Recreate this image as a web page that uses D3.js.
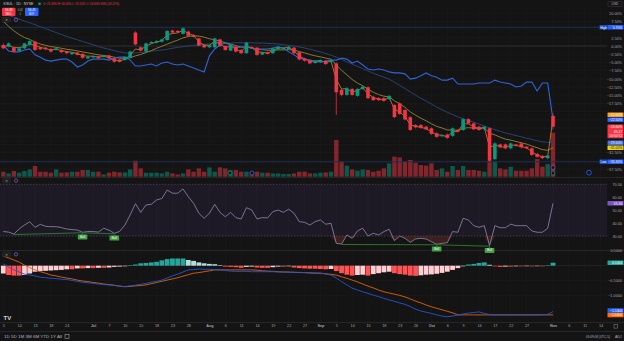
<!DOCTYPE html>
<html><head><meta charset="utf-8">
<script src="https://cdn.jsdelivr.net/npm/d3@7"></script>
<style>
html,body{margin:0;padding:0;background:#141414;overflow:hidden}
svg{display:block;font-family:"Liberation Sans",Arial,sans-serif}
</style></head><body>
<svg id="c" width="624" height="341"></svg>
<script>
// ---------- DATA (percent change scale) ----------
const open = [0.3,-0.2,-0.5,-1.5,-0.7,0.3,1.3,-0.4,-0.5,-0.9,
-1.2,-1.2,-1.7,-2.5,-2.0,-2.4,-3.8,-3.5,-3.2,-3.3,
-2.9,-3.8,-4.1,-4.3,-3.6,4.1,-0.4,-1.7,0.8,1.0,
1.3,1.8,4.7,4.6,3.7,4.4,3.4,2.3,0.3,-0.4,
-0.4,2.0,0.0,-1.4,-0.2,-1.2,-2.2,-0.3,-0.5,-2.6,
-1.9,-2.2,-1.0,-0.9,-0.9,-0.5,-1.9,-3.8,-4.3,-5.2,
-4.9,-4.5,-4.8,-5.3,-13.4,-14.9,-13.1,-15.2,-13.1,-12.6,
-15.5,-15.9,-15.9,-16.2,-18.0,-17.5,-19.5,-21.7,-24.1,-24.1,
-24.6,-25.1,-26.6,-27.5,-27.0,-27.4,-25.6,-25.6,-22.3,-23.6,
-24.6,-25.4,-25.1,-34.5,-30.0,-30.0,-31.2,-30.0,-29.7,-30.7,
-31.2,-32.9,-33.5,-34.2,-21.3];
const high = [0.8,1.1,-0.2,-0.4,1.0,1.8,1.6,-0.2,-0.3,-0.7,
-0.5,-1.0,-1.5,-1.8,-1.8,-2.2,-3.1,-2.9,-3.0,-2.7,
-2.7,-3.6,-3.9,-3.1,-1.4,4.5,-0.1,1.1,1.5,1.8,
2.3,4.9,5.0,4.9,5.7,4.7,3.6,2.5,0.5,0.4,
2.6,2.2,0.2,0.6,0.0,-1.0,1.3,-0.1,-0.3,-1.7,
-1.7,-0.5,0.0,-0.4,0.0,-0.3,-1.7,-3.6,-4.1,-4.4,
-4.1,-4.3,-4.1,-5.0,-13.1,-12.5,-12.8,-12.8,-12.1,-12.3,
-15.2,-15.6,-15.6,-14.9,-17.7,-17.2,-19.2,-21.4,-23.8,-23.8,
-24.3,-24.8,-26.3,-26.9,-26.7,-24.8,-25.3,-22.0,-22.0,-23.3,
-24.3,-24.3,-24.8,-29.4,-29.7,-29.7,-29.4,-29.8,-29.4,-30.5,
-30.9,-32.6,-33.2,-33.2,-20.5];
const low = [-0.9,-0.4,-2.0,-1.8,-0.9,0.1,-1.5,-1.2,-1.3,-2.0,
-1.4,-2.1,-2.5,-2.7,-2.9,-3.9,-4.0,-3.8,-3.9,-3.5,
-4.0,-5.1,-5.0,-4.5,-3.8,0.2,-1.7,-1.9,0.6,0.8,
1.1,1.6,3.9,4.0,3.5,2.9,2.6,-0.1,-0.7,-0.6,
-0.6,-0.3,-1.5,-1.6,-2.0,-2.5,-2.4,-0.9,-3.0,-2.8,
-2.6,-2.4,-1.2,-1.1,-1.1,-2.5,-4.4,-4.8,-5.6,-5.4,
-5.1,-5.8,-5.0,-21.0,-15.4,-15.3,-15.2,-15.5,-13.4,-16.2,
-16.8,-16.8,-17.0,-16.5,-22.0,-21.0,-22.7,-25.9,-25.1,-25.3,
-25.7,-27.1,-28.0,-27.8,-28.3,-27.7,-26.4,-25.9,-23.9,-25.7,
-25.9,-25.7,-35.3,-34.8,-31.2,-31.5,-31.5,-30.7,-31.2,-31.5,
-33.5,-34.1,-34.5,-34.5,-25.5];
const close = [-0.7,0.8,-1.7,-0.7,0.8,1.5,-1.2,-1.0,-1.0,-1.7,
-0.7,-1.9,-2.2,-2.0,-2.7,-3.6,-3.3,-3.1,-3.7,-2.9,
-3.8,-4.8,-4.8,-3.3,-1.7,0.5,-1.4,0.8,1.2,1.5,
2.0,4.6,4.1,4.2,5.4,3.1,2.8,0.1,-0.4,0.2,
2.3,0.0,-1.2,0.3,-1.7,-2.2,1.0,-0.7,-2.7,-1.9,
-2.4,-0.7,-0.2,-0.6,-0.2,-2.2,-4.1,-4.5,-5.3,-4.6,
-4.3,-5.5,-4.3,-14.1,-14.9,-12.9,-14.9,-13.1,-12.4,-15.9,
-16.5,-16.5,-16.7,-15.2,-21.7,-20.7,-22.4,-25.6,-24.8,-25.0,
-25.4,-26.8,-27.7,-27.2,-28.0,-25.1,-26.1,-22.3,-23.6,-25.4,
-25.6,-24.6,-35.0,-29.7,-30.9,-31.2,-29.7,-30.4,-30.9,-31.2,
-33.2,-33.8,-34.2,-33.4,-24.6];
const volume = [500,330,570,400,570,730,1070,500,500,400,
730,400,430,500,500,670,670,500,500,230,
400,500,430,430,730,1600,830,400,400,400,
330,500,330,230,330,730,500,830,500,930,
500,930,830,670,670,500,500,500,500,400,
400,330,330,270,270,330,500,500,330,330,
400,430,500,3670,1500,1100,730,600,730,670,
500,600,830,1330,2000,1930,1500,1670,1400,1170,
1100,1330,670,830,500,1070,670,1070,670,670,
600,500,1500,1500,830,730,1000,600,600,600,
830,1770,1000,1270,4400];
const compare = [0.3,-1.5,-1.8,-1.8,-1.2,-0.9,-2.7,-3.4,-4.3,-4.6,
-4.3,-4.0,-4.0,-4.9,-6.4,-5.8,-4.6,-4.0,-4.0,-4.0,
-4.3,-3.7,-3.4,-3.4,-4.3,-6.1,-6.1,-5.8,-5.5,-6.1,
-5.2,-4.9,-5.5,-5.8,-5.5,-6.1,-6.7,-7.3,-7.9,-3.0,
-0.9,0.3,0.9,0.3,-0.6,-0.3,-0.3,-0.6,-0.9,-0.9,
-0.9,-0.6,-0.3,-0.6,-1.8,-2.7,-3.7,-4.0,-4.3,-4.6,
-4.9,-4.6,-4.3,-4.3,-3.7,-4.0,-5.2,-4.6,-5.8,-7.0,
-7.3,-7.0,-7.3,-7.9,-8.2,-8.2,-8.5,-10.1,-9.8,-9.1,
-8.2,-9.1,-9.5,-10.4,-10.4,-9.8,-11.6,-11.6,-11.6,-11.6,
-11.3,-11.3,-11.3,-10.4,-11.0,-11.3,-11.6,-12.5,-12.2,-11.0,
-11.0,-13.7,-11.3,-11.3,-22.5];
const fastMA = [-0.2,0.2,-0.5,-0.5,-0.2,0.6,0.2,-0.4,-0.8,-1.2,
-1.0,-1.4,-1.7,-1.9,-2.3,-2.9,-3.1,-3.1,-3.4,-3.2,
-3.5,-4.2,-4.6,-4.0,-2.8,-0.9,-1.2,0.0,0.7,1.2,
1.7,3.4,3.8,4.0,4.8,3.8,3.2,1.3,0.3,0.2,
1.5,0.6,-0.5,0.0,-1.0,-1.7,-0.1,-0.5,-1.8,-1.9,
-2.2,-1.3,-0.6,-0.6,-0.4,-1.5,-3.1,-3.9,-4.7,-4.6,
-4.4,-5.1,-4.6,-10.3,-13.1,-13.0,-14.1,-13.5,-12.8,-14.6,
-15.7,-16.2,-16.5,-15.7,-19.3,-20.1,-21.5,-24.0,-24.5,-24.8,
-25.2,-26.2,-27.1,-27.2,-27.7,-26.1,-26.1,-23.8,-23.7,-24.7,
-25.2,-24.8,-30.9,-30.2,-30.6,-31.0,-30.2,-30.3,-30.7,-31.0,
-32.3,-33.2,-33.8,-33.6,-22.0];
const midMA = [7.5,6.0,4.6,3.5,2.6,2.0,1.2,0.6,0.2,-0.2,
-0.4,-0.7,-1.0,-1.2,-1.5,-1.8,-2.1,-2.4,-2.7,-2.9,
-3.1,-3.4,-3.7,-3.8,-3.6,-3.0,-2.6,-2.0,-1.4,-0.7,
-0.1,0.6,1.2,1.8,2.5,2.9,3.1,3.0,2.7,2.2,
1.9,1.5,1.0,0.6,0.1,-0.3,-0.4,-0.6,-0.9,-1.1,
-1.3,-1.3,-1.2,-1.2,-1.1,-1.3,-1.7,-2.1,-2.6,-3.0,
-3.3,-3.7,-4.0,-5.8,-7.4,-8.8,-10.2,-11.3,-12.1,-13.2,
-14.1,-14.8,-15.3,-15.5,-16.7,-17.6,-18.7,-20.1,-21.1,-22.0,
-22.8,-23.7,-24.5,-25.0,-25.6,-25.6,-25.7,-25.1,-24.9,-25.0,
-25.1,-25.0,-26.6,-27.1,-27.8,-28.4,-28.7,-29.1,-29.5,-29.9,
-30.5,-31.0,-31.6,-31.8,-31.0];
const slowMA = [9.8,9.3,8.8,8.2,7.6,7.1,6.5,5.9,5.3,4.7,
4.1,3.5,2.9,2.4,1.9,1.4,0.9,0.4,-0.2,-0.6,
-1.0,-1.4,-1.8,-2.1,-2.2,-2.1,-2.0,-1.8,-1.6,-1.4,
-1.2,-1.0,-0.7,-0.4,-0.2,0.0,0.2,0.4,0.5,0.6,
0.8,0.8,0.9,0.9,1.0,1.0,1.0,1.0,0.9,0.9,
0.8,0.7,0.6,0.4,0.2,0.0,-0.3,-0.6,-1.0,-1.4,
-1.8,-2.3,-2.8,-3.4,-4.1,-4.8,-5.5,-6.2,-6.9,-7.6,
-8.3,-8.9,-9.5,-10.1,-11.0,-12.0,-13.0,-14.0,-15.0,-15.9,
-16.8,-17.7,-18.6,-19.4,-20.2,-20.9,-21.6,-22.2,-22.7,-23.2,
-23.8,-24.4,-25.0,-25.5,-26.0,-26.5,-26.9,-27.3,-27.7,-28.1,
-28.5,-28.9,-29.2,-29.4,-29.5];
const rsi = [33.5,33.0,31.5,35.5,38.5,41.0,36.7,39.0,37.5,37.2,
37.2,36.5,35.4,35.0,34.6,32.9,33.5,33.5,33.0,36.0,
34.5,32.1,33.5,38.5,46.3,55.0,48.3,54.0,54.5,57.9,
59.0,65.6,63.1,63.1,66.4,60.4,55.3,47.6,43.7,47.6,
54.5,48.3,44.9,48.3,44.2,43.2,51.9,50.1,43.2,44.2,
44.0,48.8,50.1,48.3,50.7,47.6,41.1,40.6,38.5,41.1,
42.4,39.1,39.8,24.3,23.8,30.8,28.2,33.9,36.0,30.0,
32.1,30.8,33.4,35.2,26.4,30.0,28.2,25.1,27.7,28.2,
27.7,25.6,23.6,24.3,24.8,33.4,32.9,43.7,42.4,38.0,
36.7,38.0,22.5,38.0,36.4,36.4,39.1,38.0,38.0,38.0,
33.9,32.9,32.9,36.0,55.3];
const macd = [0.06,-0.04,-0.14,-0.21,-0.28,-0.31,-0.34,-0.38,-0.40,-0.42,
-0.43,-0.45,-0.46,-0.49,-0.52,-0.55,-0.57,-0.59,-0.61,-0.63,
-0.64,-0.66,-0.68,-0.70,-0.67,-0.65,-0.62,-0.59,-0.55,-0.52,
-0.48,-0.41,-0.34,-0.28,-0.21,-0.14,-0.13,-0.11,-0.12,-0.12,
-0.13,-0.14,-0.16,-0.18,-0.19,-0.19,-0.19,-0.20,-0.20,-0.20,
-0.20,-0.20,-0.21,-0.21,-0.22,-0.22,-0.22,-0.23,-0.24,-0.24,
-0.25,-0.28,-0.31,-0.41,-0.53,-0.64,-0.75,-0.81,-0.87,-0.92,
-0.98,-1.03,-1.09,-1.14,-1.19,-1.24,-1.29,-1.36,-1.45,-1.51,
-1.55,-1.59,-1.64,-1.68,-1.70,-1.68,-1.64,-1.61,-1.58,-1.56,
-1.54,-1.59,-1.63,-1.64,-1.64,-1.64,-1.64,-1.64,-1.64,-1.64,
-1.64,-1.64,-1.63,-1.62,-1.53];
const signal = [0.32,0.26,0.19,0.12,0.02,-0.06,-0.14,-0.20,-0.25,-0.31,
-0.34,-0.38,-0.41,-0.44,-0.48,-0.51,-0.53,-0.56,-0.58,-0.61,
-0.63,-0.65,-0.68,-0.70,-0.69,-0.67,-0.66,-0.64,-0.60,-0.56,
-0.52,-0.48,-0.44,-0.40,-0.35,-0.30,-0.25,-0.23,-0.20,-0.17,
-0.14,-0.14,-0.14,-0.14,-0.14,-0.14,-0.14,-0.14,-0.15,-0.17,
-0.18,-0.19,-0.20,-0.21,-0.21,-0.22,-0.23,-0.23,-0.24,-0.25,
-0.25,-0.27,-0.29,-0.31,-0.37,-0.42,-0.48,-0.54,-0.61,-0.68,
-0.74,-0.81,-0.87,-0.91,-0.95,-0.99,-1.04,-1.11,-1.18,-1.24,
-1.31,-1.37,-1.42,-1.47,-1.52,-1.57,-1.64,-1.64,-1.64,-1.64,
-1.64,-1.64,-1.64,-1.64,-1.64,-1.64,-1.64,-1.64,-1.64,-1.64,
-1.64,-1.64,-1.64,-1.64,-1.64];
const hist = [-0.26,-0.31,-0.33,-0.33,-0.31,-0.26,-0.20,-0.18,-0.17,-0.16,
-0.15,-0.14,-0.12,-0.12,-0.09,-0.09,-0.08,-0.08,-0.07,-0.07,
-0.06,-0.04,-0.03,-0.02,0.02,0.04,0.08,0.09,0.11,0.13,
0.18,0.22,0.24,0.24,0.24,0.19,0.16,0.11,0.08,0.06,
0.05,0.02,-0.03,-0.04,-0.05,-0.07,-0.04,-0.03,-0.06,-0.07,
-0.07,-0.05,-0.03,-0.03,-0.02,-0.06,-0.08,-0.09,-0.10,-0.10,
-0.11,-0.12,-0.11,-0.18,-0.25,-0.30,-0.33,-0.31,-0.30,-0.33,
-0.28,-0.25,-0.22,-0.20,-0.25,-0.28,-0.30,-0.33,-0.34,-0.32,
-0.30,-0.29,-0.27,-0.24,-0.20,-0.14,-0.08,-0.02,0.04,0.06,
0.09,0.11,0.03,-0.02,-0.04,-0.03,-0.03,-0.02,-0.02,-0.01,
-0.02,-0.01,-0.02,0.01,0.10];
const bullFrom = [2,15,64,82];
const bullTo = [15,21,82,92];
const holidays = ["2025-06-19","2025-07-04","2025-09-01","2025-11-27"];
const tickDates = ["2025-06-05","2025-06-10","2025-06-13","2025-06-18","2025-06-24","2025-07-01","2025-07-07","2025-07-10","2025-07-15","2025-07-18","2025-07-23","2025-07-28","2025-08-01","2025-08-06","2025-08-11","2025-08-14","2025-08-19","2025-08-22","2025-08-27","2025-09-02","2025-09-05","2025-09-10","2025-09-15","2025-09-18","2025-09-23","2025-09-26","2025-10-01","2025-10-06","2025-10-09","2025-10-14","2025-10-17","2025-10-22","2025-10-27","2025-11-03","2025-11-06","2025-11-11","2025-11-14"];
const tickLabels = ["5","10","13","18","24","Jul","7","10","15","18","23","28","Aug","6","11","14","19","22","27","Sep","5","10","15","18","23","26","Oct","6","9","14","17","22","27","Nov","6","11","14"];
const mainTicks = [10,7.5,5,2.5,0,-2.5,-5,-7.5,-10,-12.5,-15,-17.5,-20,-22.5,-25,-27.5,-30,-32.5,-35,-37.5];
const rsiTicks = [70,60,50,40,30];
const macdTicks = [0.5,0,-0.5,-1.0];

// trading-day calendar
const dates = [];
for (let d = new Date(Date.UTC(2025,5,5)); dates.length < 120; d.setUTCDate(d.getUTCDate()+1)) {
  const dow = d.getUTCDay(), s = d.toISOString().slice(0,10);
  if (dow===0 || dow===6 || holidays.includes(s)) continue;
  dates.push(s);
}
const tickIdx = tickDates.map(s => dates.indexOf(s));

// ---------- LAYOUT ----------
const svg = d3.select("#c");
const R = 607, n = close.length, last = n - 1;
const FONT = "Liberation Sans, Arial, sans-serif";
const x = d3.scaleLinear().domain([0, last]).range([3.3, 553]);
const yMain = d3.scaleLinear().domain([10, -35]).range([13.2, 160.8]);
const yVol = d3.scaleLinear().domain([0, 4400]).range([176.7, 132.7]);
const yRsi = d3.scaleLinear().domain([30, 70]).range([236, 184.3]);
const yMacd = d3.scaleLinear().domain([0, -1]).range([265.7, 295.7]);
const idx = d3.range(n);

svg.append("rect").attr("width",624).attr("height",341).attr("fill","#141414");
const defs = svg.append("defs");
[["cMain",8,169.5],["cRsi",178,72],["cMacd",251,71]].forEach(([id,y,h])=>
  defs.append("clipPath").attr("id",id).append("rect").attr("x",0).attr("y",y).attr("width",R).attr("height",h));

// grid
const grid = svg.append("g").attr("stroke","#1d1d1d").attr("stroke-width",0.6);
tickIdx.forEach(t => grid.append("line").attr("x1",x(t)).attr("x2",x(t)).attr("y1",8).attr("y2",322));
mainTicks.forEach(t => grid.append("line").attr("x1",0).attr("x2",R).attr("y1",yMain(t)).attr("y2",yMain(t)));
macdTicks.forEach(t => grid.append("line").attr("x1",0).attr("x2",R).attr("y1",yMacd(t)).attr("y2",yMacd(t)));

// pane separators
const sep = svg.append("g").attr("stroke","#262626").attr("stroke-width",1);
[177.5, 250.5, 322.5, 331.5].forEach(y => sep.append("line").attr("x1",0).attr("x2",624).attr("y1",y).attr("y2",y));

// ---------- MAIN PANE ----------
const main = svg.append("g").attr("clip-path","url(#cMain)");
const up = i => close[i] >= open[i];
main.selectAll(".vol").data(idx).join("rect")
  .attr("x", i => x(i) - 2.2).attr("width", 4.4)
  .attr("y", i => yVol(volume[i])).attr("height", i => yVol(0) - yVol(volume[i]))
  .attr("fill", i => up(i) ? "rgba(8,153,129,0.5)" : "rgba(242,54,69,0.5)");

const hiVal = d3.max(high), loVal = d3.min(low);
main.append("line").attr("x1",0).attr("x2",R).attr("y1",yMain(hiVal)).attr("y2",yMain(hiVal)).attr("stroke","#1f2f55").attr("stroke-width",1);
main.append("line").attr("x1",0).attr("x2",R).attr("y1",yMain(loVal)).attr("y2",yMain(loVal)).attr("stroke","#1f2f55").attr("stroke-width",1);
main.append("line").attr("x1",0).attr("x2",R).attr("y1",yMain(0)).attr("y2",yMain(0)).attr("stroke","#333333").attr("stroke-width",0.8);

const lineM = arr => d3.line().x((d,i)=>x(i)).y(d=>yMain(d))(arr);
main.append("path").attr("d",lineM(slowMA)).attr("fill","none").attr("stroke","#2a4171").attr("stroke-width",1);
main.append("path").attr("d",lineM(midMA)).attr("fill","none").attr("stroke","#8a7a33").attr("stroke-width",1);
main.append("path").attr("d",lineM(fastMA)).attr("fill","none").attr("stroke","#c98a2c").attr("stroke-width",0.8);
main.append("path").attr("d",lineM(compare)).attr("fill","none").attr("stroke","#2f63d8").attr("stroke-width",1.1);

const cg = main.append("g");
cg.selectAll(".wick").data(idx).join("line")
  .attr("x1", i => x(i)).attr("x2", i => x(i))
  .attr("y1", i => yMain(high[i])).attr("y2", i => yMain(low[i]))
  .attr("stroke", i => up(i) ? "#089981" : "#f23645").attr("stroke-width", 0.7);
cg.selectAll(".body").data(idx).join("rect")
  .attr("x", i => x(i) - 1.8).attr("width", 3.6)
  .attr("y", i => yMain(Math.max(open[i], close[i])))
  .attr("height", i => Math.max(0.7, Math.abs(yMain(open[i]) - yMain(close[i]))))
  .attr("fill", i => up(i) ? "#089981" : "#f23645");

// event markers
[[230,173,"#089981"],[252,173,"#2962ff"],[553,167.5,"#7e57c2"],[553,173,"#089981"]].forEach(([cx,cy,c]) =>
  svg.append("circle").attr("cx",cx).attr("cy",cy).attr("r",2).attr("fill","#141414").attr("stroke",c).attr("stroke-width",0.7));
svg.append("circle").attr("cx",589).attr("cy",172.7).attr("r",2.4).attr("fill","none").attr("stroke","#2962ff").attr("stroke-width",0.8);

// ---------- RSI PANE ----------
const rp = svg.append("g").attr("clip-path","url(#cRsi)");
rp.append("rect").attr("x",0).attr("width",R).attr("y",yRsi(70)).attr("height",yRsi(30)-yRsi(70)).attr("fill","rgba(126,87,194,0.1)");
[70,30].forEach(v => rp.append("line").attr("x1",0).attr("x2",R).attr("y1",yRsi(v)).attr("y2",yRsi(v))
  .attr("stroke","#4d4b57").attr("stroke-width",0.7).attr("stroke-dasharray","1.5,1.5"));
rp.append("path").attr("d", d3.area().x((d,i)=>x(i)).y0(yRsi(30)).y1(d=>yRsi(Math.min(d,30)))(rsi))
  .attr("fill","rgba(170,60,45,0.28)");
rp.append("path").attr("d", d3.line().x((d,i)=>x(i)).y(d=>yRsi(d))(rsi)).attr("fill","none").attr("stroke","#8f89ad").attr("stroke-width",0.8);
bullFrom.forEach((a,k) => {
  const b = bullTo[k];
  svg.append("line").attr("x1",x(a)).attr("x2",x(b)).attr("y1",yRsi(rsi[a])+0.5).attr("y2",yRsi(rsi[b])+0.5)
    .attr("stroke","#2e7d32").attr("stroke-width",0.9);
});
bullTo.forEach(b => {
  const cx = x(b), top = yRsi(rsi[b]) + 2.2;
  svg.append("path").attr("d",`M${cx-1},${top}L${cx},${top-1.2}L${cx+1},${top}Z`).attr("fill","#43a047");
  svg.append("rect").attr("x",cx-4.8).attr("y",top).attr("width",9.6).attr("height",5).attr("rx",0.6).attr("fill","#43a047");
  svg.append("text").attr("x",cx).attr("y",top+3.5).attr("text-anchor","middle").attr("font-size",3).attr("fill","#ffffff").text("Bull");
});

// ---------- MACD PANE ----------
const mp = svg.append("g").attr("clip-path","url(#cMacd)");
mp.append("line").attr("x1",0).attr("x2",R).attr("y1",yMacd(0)).attr("y2",yMacd(0)).attr("stroke","#2a2a2a").attr("stroke-width",0.6);
const hColor = i => {
  const v = hist[i], p = i > 0 ? hist[i-1] : v - 0.01;
  if (v >= 0) return v >= p ? "#26a69a" : "#b2dfdb";
  return v <= p ? "#ff5252" : "#ffcdd2";
};
mp.selectAll(".h").data(idx).join("rect")
  .attr("x", i => x(i) - 2.4).attr("width", 4.8)
  .attr("y", i => Math.min(yMacd(hist[i]), yMacd(0)))
  .attr("height", i => Math.max(0.5, Math.abs(yMacd(hist[i]) - yMacd(0))))
  .attr("fill", hColor);
const lineD = arr => d3.line().x((d,i)=>x(i)).y(d=>yMacd(d))(arr);
mp.append("path").attr("d",lineD(signal)).attr("fill","none").attr("stroke","#e0620a").attr("stroke-width",0.9);
mp.append("path").attr("d",lineD(macd)).attr("fill","none").attr("stroke","#2356d6").attr("stroke-width",0.9);

// ---------- AXES ----------
function styleAxis(g){
  g.select(".domain").remove();
  g.selectAll("line").remove();
  g.selectAll("text").attr("fill","#a0a3ab").attr("font-size",3.8).attr("font-family",FONT);
}
const fmtPct = d3.format(".2f");
const mainAxis = svg.append("g").attr("transform",`translate(${R},0)`)
  .call(d3.axisRight(yMain).tickValues(mainTicks).tickSize(0).tickPadding(0).tickFormat(d=>fmtPct(d)+"%")).call(styleAxis);
mainAxis.selectAll("text").attr("x",15).attr("text-anchor","end");
const rsiAxis = svg.append("g").attr("transform",`translate(${R},0)`)
  .call(d3.axisRight(yRsi).tickValues(rsiTicks).tickSize(0).tickPadding(0).tickFormat(d3.format(".2f"))).call(styleAxis);
rsiAxis.selectAll("text").attr("x",15).attr("text-anchor","end");
const macdAxis = svg.append("g").attr("transform",`translate(${R},0)`)
  .call(d3.axisRight(yMacd).tickValues(macdTicks).tickSize(0).tickPadding(0).tickFormat(d3.format(".4f"))).call(styleAxis);
macdAxis.selectAll("text").attr("x",15).attr("text-anchor","end");
const xAxis = svg.append("g").attr("transform","translate(0,322.5)")
  .call(d3.axisBottom(x).tickValues(tickIdx).tickSize(0).tickPadding(1.6).tickFormat((d,i)=>tickLabels[i])).call(styleAxis);
xAxis.selectAll("text").attr("font-weight",(d,i)=>/^[A-Z]/.test(tickLabels[i]) ? "bold" : null);

// ---------- PRICE BOXES ----------
function layoutBoxes(list, gap){
  list.sort((a,b)=>b.y-a.y);
  for (let k=1;k<list.length;k++){ const lim = list[k-1].y - gap; if (list[k].y > lim) list[k].y = lim; }
  return list;
}
function drawBox(b){
  const lines = b.lines, h = 4.6;
  const g = svg.append("g");
  if (b.tag){
    g.append("rect").attr("x",599.5).attr("y",b.y-h/2).attr("width",8).attr("height",h).attr("fill",b.tagFill);
    g.append("text").attr("x",603.5).attr("y",b.y+1.3).attr("text-anchor","middle").attr("font-size",3.2).attr("fill","#ffffff").attr("font-family",FONT).text(b.tag);
  }
  g.append("rect").attr("x",R+0.5).attr("y",b.y-h/2).attr("width",16).attr("height",h*lines.length).attr("rx",0.5).attr("fill",b.fill);
  lines.forEach((t,k)=> g.append("text").attr("x",622.3).attr("y",b.y+1.3+k*h).attr("text-anchor","end")
    .attr("font-size",3.4).attr("font-family",FONT).attr("fill",b.color||"#ffffff").text(t));
}
const f2 = v => fmtPct(v)+"%";
const mainBoxes = layoutBoxes([
  {y:yMain(hiVal), fill:"#2962ff", lines:[f2(hiVal)], tag:"High", tagFill:"#1e4bc4"},
  {y:yMain(fastMA[last]), fill:"#f0a020", lines:[f2(fastMA[last])]},
  {y:yMain(compare[last]), fill:"#2962ff", lines:[f2(compare[last])]},
  {y:yMain(close[last]), fill:"#f23645", lines:[f2(close[last]),"45.47","10:50:52"]},
  {y:yMain(slowMA[last]), fill:"#3d6fe0", lines:[f2(slowMA[last])]},
  {y:yMain(midMA[last]), fill:"#f2d01e", lines:[f2(midMA[last])], color:"#131313"},
  {y:yMain(loVal), fill:"#2962ff", lines:[f2(loVal)], tag:"Low", tagFill:"#1e4bc4"}
], 5);
const rsiBoxes = [{y:yRsi(rsi[last]), fill:"#7e57c2", lines:[d3.format(".2f")(rsi[last])]}];
const macdBoxes = layoutBoxes([
  {y:yMacd(hist[last]), fill:"#26a69a", lines:[d3.format(".4f")(hist[last])]},
  {y:yMacd(macd[last]), fill:"#2962ff", lines:[d3.format(".4f")(macd[last])]},
  {y:yMacd(signal[last]), fill:"#ff6d00", lines:[d3.format(".4f")(signal[last])]}
], 4.4);
function hideTicks(axis, boxes, scale){
  axis.selectAll(".tick").each(function(d){
    const ty = scale(d);
    if (boxes.some(b => ty > b.y - 4.2 && ty < b.y - 2.3 + 4.6*b.lines.length + 1.9)) d3.select(this).remove();
  });
}
hideTicks(mainAxis, mainBoxes, yMain);
hideTicks(rsiAxis, rsiBoxes, yRsi);
hideTicks(macdAxis, macdBoxes, yMacd);
mainBoxes.concat(rsiBoxes, macdBoxes).forEach(drawBox);

// ---------- LEGENDS / CHROME ----------
const t = (xx,yy,s,size,fill,anchor) => svg.append("text").attr("x",xx).attr("y",yy).attr("font-size",size)
  .attr("fill",fill).attr("font-family",FONT).attr("text-anchor",anchor||"start").text(s);
t(3.5,5.2,"KSUL · 1D · NYSE",4,"#d1d4dc").attr("textLength",30).attr("lengthAdjust","spacingAndGlyphs");
svg.append("circle").attr("cx",39.5).attr("cy",3.8).attr("r",1.4).attr("fill","#089981");
t(43,5.2,`O${fmtPct(open[last])}% H${fmtPct(high[last])}% L${fmtPct(low[last])}% C${fmtPct(close[last])}% ${fmtPct(close[last]-close[last-1])} (${fmtPct((close[last]-close[last-1])/ (100+close[last-1])*100)}%)`,3.8,"#f23645")
  .attr("textLength",76).attr("lengthAdjust","spacingAndGlyphs");
svg.append("rect").attr("x",2).attr("y",7.8).attr("width",13.5).attr("height",8.2).attr("rx",1).attr("fill","#f23645");
t(8.75,11.3,"56.43",3,"#fff","middle"); t(8.75,14.6,"SELL",2.6,"#fff","middle");
t(20.3,11.3,"0.02",2.6,"#b2b5be","middle"); t(20.3,14.6,"1",2.6,"#b2b5be","middle");
svg.append("rect").attr("x",25).attr("y",7.8).attr("width",13.5).attr("height",8.2).attr("rx",1).attr("fill","#2962ff");
t(31.75,11.3,"56.45",3,"#fff","middle"); t(31.75,14.6,"BUY",2.6,"#fff","middle");
[[19.8],[180.6],[254.3]].forEach(([cy]) => {
  svg.append("rect").attr("x",2.5).attr("y",cy-2.3).attr("width",8).attr("height",4.6).attr("rx",0.8).attr("fill","#1e1e1e").attr("stroke","#3a3a3a").attr("stroke-width",0.4);
  t(6.5,cy+1.3,"≡",3.6,"#b2b5be","middle");
  svg.append("circle").attr("cx",16).attr("cy",cy).attr("r",1.7).attr("fill","none").attr("stroke","#7e57c2").attr("stroke-width",0.8);
});
svg.append("rect").attr("x",608).attr("y",1.5).attr("width",14).attr("height",5).attr("rx",0.6).attr("fill","none").attr("stroke","#3a3a3a").attr("stroke-width",0.5);
t(615,5.2,"USD",3.3,"#b2b5be","middle");
t(3.5,320,"TV",6,"#d1d4dc").attr("font-weight","bold");
t(4,337.8,"1D   5D   1M   3M   6M   YTD   1Y   All",3.5,"#b2b5be").attr("textLength",58).attr("lengthAdjust","spacingAndGlyphs");
svg.append("rect").attr("x",65).attr("y",334.5).attr("width",4).attr("height",4).attr("fill","none").attr("stroke","#b2b5be").attr("stroke-width",0.5);
t(586,337.8,"05:09:08 (UTC-5)",3.5,"#b2b5be").attr("textLength",24).attr("lengthAdjust","spacingAndGlyphs");
t(615,337.8,"ADJ",3.5,"#b2b5be");
svg.append("rect").attr("x",614).attr("y",324.5).attr("width",3.6).attr("height",3.6).attr("fill","none").attr("stroke","#8a8d95").attr("stroke-width",0.5);
</script>
</body></html>
